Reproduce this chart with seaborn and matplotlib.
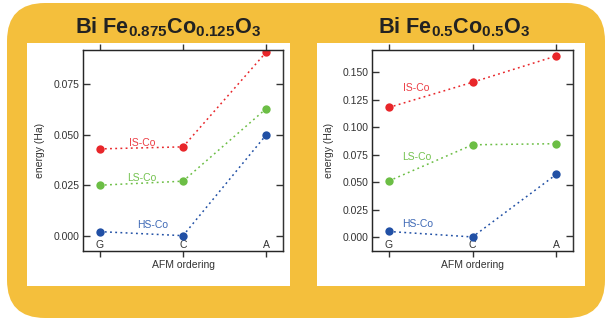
import pandas as pd
import matplotlib.pyplot as plt
import seaborn as sns
from matplotlib.patches import FancyBboxPatch, Rectangle
from matplotlib.transforms import IdentityTransform

# data
orderings = ["G", "C", "A"]
states = ["IS-Co", "LS-Co", "HS-Co"]

# Bi Fe0.875 Co0.125 O3
e875_is = [0.043, 0.044, 0.091]
e875_ls = [0.025, 0.027, 0.063]
e875_hs = [0.002, 0.000, 0.050]

# Bi Fe0.5 Co0.5 O3
e05_is = [0.118, 0.141, 0.165]
e05_ls = [0.051, 0.084, 0.085]
e05_hs = [0.005, 0.000, 0.057]

palette = {"IS-Co": "#e8262a", "LS-Co": "#6cbe45", "HS-Co": "#2150a5"}
text_colors = {"IS-Co": "#ec3d44", "LS-Co": "#74c24f", "HS-Co": "#3d68b5"}

sns.set_style("white")
plt.rcParams["font.family"] = ["Liberation Sans", "DejaVu Sans"]
plt.rcParams["mathtext.fontset"] = "custom"
plt.rcParams["mathtext.rm"] = "Liberation Sans:bold"
plt.rcParams["mathtext.bf"] = "Liberation Sans:bold"


def make_frame(is_vals, ls_vals, hs_vals):
    rows = []
    for st, vals in zip(states, [is_vals, ls_vals, hs_vals]):
        for i, v in enumerate(vals):
            rows.append({"pos": i, "ordering": orderings[i], "state": st, "energy": v})
    return pd.DataFrame(rows)


fig = plt.figure(figsize=(6.08, 3.2), dpi=100)
fig.patch.set_facecolor("white")

# yellow rounded background (pixel coords, origin bottom-left)
H = 320
fig.patches.append(FancyBboxPatch((7, H - 318), 598, 315,
                                  boxstyle="round,pad=0,rounding_size=38",
                                  transform=IdentityTransform(),
                                  facecolor="#f4bf3c", edgecolor="none", zorder=0))
for x0, x1 in [(27, 290), (317, 585)]:
    fig.patches.append(Rectangle((x0, H - 286), x1 - x0, 243,
                                 transform=IdentityTransform(),
                                 facecolor="white", edgecolor="none", zorder=1))

panels = [
    dict(df=make_frame(e875_is, e875_ls, e875_hs), rect=[83 / 608, 69 / 320, 200 / 608, 201 / 320],
         ylim=(-0.0076, 0.092), yticks=[0, 0.025, 0.05, 0.075],
         title=r"Bi Fe$_{0.875}$Co$_{0.125}$O$_3$", title_x=167.5 / 608,
         labels={"IS-Co": (0.51, 0.046), "LS-Co": (0.51, 0.0288), "HS-Co": (0.63, 0.0052)}),
    dict(df=make_frame(e05_is, e05_ls, e05_hs), rect=[372 / 608, 69 / 320, 201 / 608, 201 / 320],
         ylim=(-0.0128, 0.1704), yticks=[0, 0.025, 0.05, 0.075, 0.1, 0.125, 0.15],
         title=r"Bi Fe$_{0.5}$Co$_{0.5}$O$_3$", title_x=454 / 608,
         labels={"IS-Co": (0.33, 0.136), "LS-Co": (0.33, 0.073), "HS-Co": (0.35, 0.0115)}),
]

for p in panels:
    ax = fig.add_axes(p["rect"])
    ax.set_zorder(2)
    sns.lineplot(data=p["df"], x="pos", y="energy", hue="state", palette=palette,
                 hue_order=states, marker="o", markersize=6, markeredgewidth=0,
                 linestyle=(0, (1.2, 2.2)), linewidth=1.1, legend=False, ax=ax)
    ax.set_xlim(-0.2, 2.2)
    ax.set_ylim(*p["ylim"])
    ax.set_xticks(range(3))
    ax.set_xticklabels(orderings)
    ax.set_yticks(p["yticks"])
    ax.set_yticklabels([f"{t:.3f}" for t in p["yticks"]])
    ax.tick_params(axis="x", direction="out", length=4.5, width=1, top=True, bottom=True,
                   pad=-12.5, labelsize=7.5, colors="#333333")
    ax.tick_params(axis="y", direction="in", length=5, width=1, left=True, right=False,
                   labelsize=7.5, colors="#333333", pad=2.5)
    for sp in ax.spines.values():
        sp.set_color("#333333")
        sp.set_linewidth(1)
    ax.set_xlabel("AFM ordering", fontsize=7.5, color="#333333", labelpad=2)
    ax.set_ylabel("energy (Ha)", fontsize=7.5, color="#333333", labelpad=6)

    # right side ticks point inward (same spacing as the left panel)
    ax2 = ax.twinx()
    ax2.set_ylim(panels[0]["ylim"])
    ax2.set_yticks(panels[0]["yticks"])
    ax2.tick_params(axis="y", direction="in", length=5, width=1, labelright=False, colors="#333333")
    ax2.spines["right"].set_color("#333333")

    for st, (tx, ty) in p["labels"].items():
        ax.text(tx, ty, st, color=text_colors[st], fontsize=7.5, ha="center", va="center")

    fig.text(p["title_x"], 1 - 27.5 / 320, p["title"], fontsize=15.6, fontweight="bold",
             color="#222222", ha="center", va="center", zorder=3)

plt.savefig("out.png", dpi=100)
